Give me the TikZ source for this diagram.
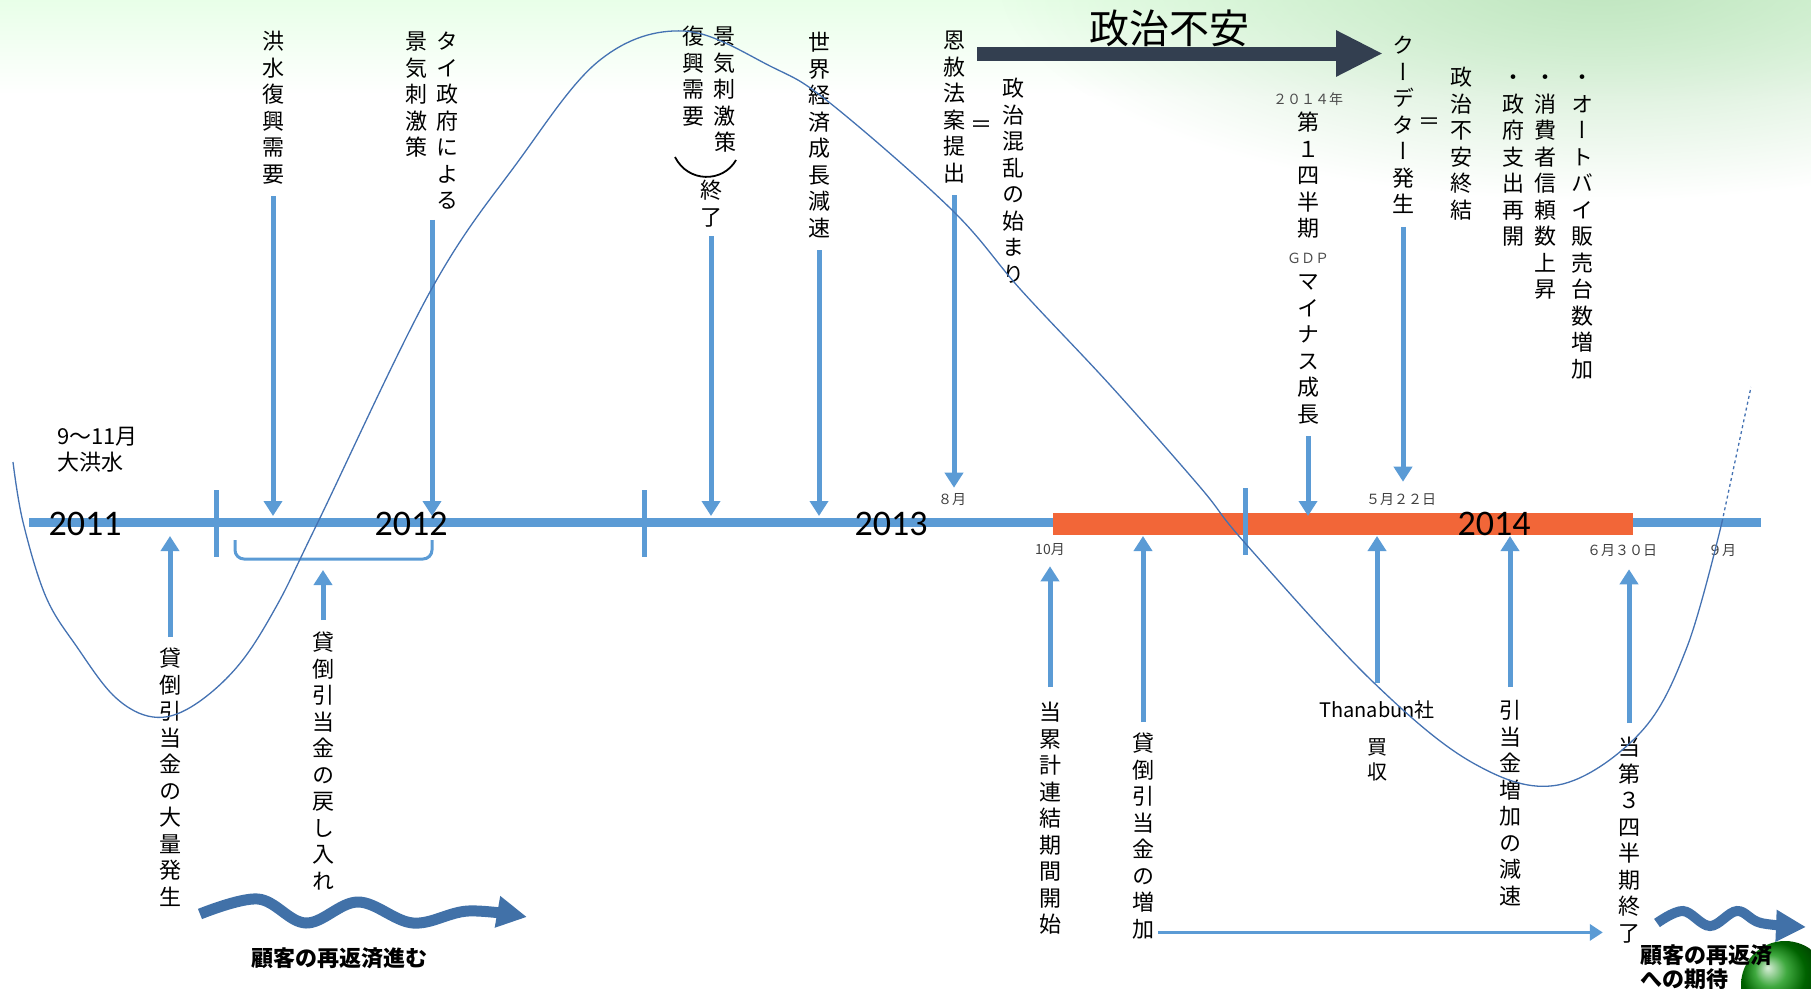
\documentclass[tikz,border=0pt]{standalone}
\usepackage{fontspec}
\newfontfamily\jp{Noto Sans CJK JP}
\newfontfamily\jpv[RawFeature=+vert]{Noto Sans CJK JP}
\newfontfamily\yearfont{Carlito}
\usetikzlibrary{arrows.meta, fadings}
\definecolor{lineblue}{RGB}{91,155,213}
\definecolor{curveblue}{RGB}{68,114,178}
\definecolor{waveblue}{RGB}{65,113,168}
\definecolor{unrestnavy}{RGB}{51,63,80}
\definecolor{barorange}{RGB}{242,102,56}
\tikzfading[name=glow, inner color=transparent!0, outer color=transparent!100]
\newcommand{\vtext}[1]{\begin{tabular}{@{}c@{}}#1\end{tabular}}
\newcommand{\sm}{\fontsize{14}{26.5}\selectfont\color{black!70}}

\begin{document}
\begin{tikzpicture}[x=1pt, y=-1pt,
    vlab/.style={font=\jpv\fontsize{22}{26.5}\selectfont, inner sep=0pt, anchor=north},
    date/.style={font=\jp\fontsize{14}{18}\selectfont, text=black!75, inner sep=0pt},
    year/.style={font=\yearfont\fontsize{36}{36}\selectfont, inner sep=0pt},
    pointer/.style={draw=lineblue, line width=5pt, -{Triangle[width=18pt,length=15pt]}, shorten <=6pt},
    thinpointer/.style={draw=lineblue, line width=3.5pt, -{Triangle[width=16pt,length=13pt]}},
    wave/.style={draw=waveblue, line width=11pt, -{Triangle[width=30pt,length=30pt]}},
    note/.style={font=\jp\bfseries\fontsize{22}{24}\selectfont, inner sep=0pt}
]
    \useasboundingbox (0,0) rectangle (1811,988);
    \shade[top color=green!9!white, bottom color=white] (0,0) rectangle (1811,95);
    \fill[green!60!black!25!white, path fading=glow] (1600,-20) ellipse [x radius=600, y radius=220];
    \shade[ball color=green!55!black] (1785,985) circle [radius=44];

    \coordinate (tlstart) at (29,522);
    \coordinate (tlend) at (1761,522);
    \coordinate (tltop) at (0,516);
    \coordinate (tlbot) at (0,536);
    \draw[lineblue, line width=9pt] (tlstart) -- (tlend);
    \fill[barorange] (1053,512.5) rectangle (1633,535);
    \draw[lineblue, line width=5pt] (216,490) -- (216,557);
    \draw[lineblue, line width=5pt] (644,490) -- (644,557);
    \draw[lineblue, line width=5pt] (1245,488) -- (1245,555);
    \draw[lineblue, line width=3pt, rounded corners=9pt] (235,540) -- (235,559) -- (432,559) -- (432,540);
    \coordinate (brk) at (323,559);

    \node[year] (y2011) at (85,523.5) {2011};
    \node[year] (y2012) at (411,523.5) {2012};
    \node[year] (y2013) at (891,523.5) {2013};
    \node[year] (y2014) at (1494,523.5) {2014};

    \node[date] (aug) at (952,500) {８月};
    \node[date] (oct) at (1050,550) {10月};
    \node[date] (may22) at (1401,500) {５月２２日};
    \node[date] (jun30) at (1622,551) {６月３０日};
    \node[date] (sep) at (1722,551) {９月};

    \node[font=\jp\fontsize{22}{26}\selectfont, align=left, anchor=west, inner sep=0pt] (bigflood) at (57,450) {9～11月\\大洪水};

    \node[vlab] (recov) at (273,31) {\vtext{洪\\水\\復\\興\\需\\要}};
    \node[vlab] (stim) at (432,31) {\begin{tabular}{@{}c@{\hspace{9pt}}c@{}}景&タ\\気&イ\\刺&政\\激&府\\策&に\\&よ\\&る\end{tabular}};
    \node[vlab] (stimend) at (709,26) {\begin{tabular}{@{}c@{\hspace{10pt}}c@{}}復&景\\興&気\\需&刺\\要&激\\&策\end{tabular}};
    \draw[line width=1.8pt] (675,157) .. controls (688,183) and (723,183) .. (736,160);
    \node[vlab] (ended) at (711,180) {\vtext{終\\了}};
    \node[vlab] (slowdown) at (819,32) {\vtext{世\\界\\経\\済\\成\\長\\減\\速}};
    \node[vlab] (amnesty) at (954,30) {\vtext{恩\\赦\\法\\案\\提\\出}};
    \node[font=\jp\fontsize{22}{26}\selectfont, inner sep=0pt] (eqa) at (981,127) {＝};
    \node[vlab] (turmoil) at (1013,78) {\vtext{政\\治\\混\\乱\\の\\始\\ま\\り}};

    \node[font=\jp\fontsize{40}{40}\selectfont, inner sep=0pt] (unrest) at (1169,28) {政治不安};
    \coordinate (unrestfrom) at (977,53.5);
    \coordinate (unrestto) at (1383,53.5);
    \draw[unrestnavy, line width=14pt, -{Triangle[width=43pt,length=47pt]}] (unrestfrom) -- (unrestto);

    \node[vlab] (gdp) at (1308,85.5) {\vtext{{\sm ２０１４年}\\第\\１\\四\\半\\期\\{\sm ＧＤＰ}\\マ\\イ\\ナ\\ス\\成\\長}};
    \node[vlab] (coup) at (1403,35) {\vtext{ク\\ー\\デ\\タ\\ー\\発\\生}};
    \node[font=\jp\fontsize{22}{26}\selectfont, inner sep=0pt] (eqb) at (1429,124) {＝};
    \node[vlab] (calm) at (1461,67) {\vtext{政\\治\\不\\安\\終\\結}};
    \node[vlab] (spend) at (1513,67) {\vtext{・\\政\\府\\支\\出\\再\\開}};
    \node[vlab] (trust) at (1545,67) {\vtext{・\\消\\費\\者\\信\\頼\\数\\上\\昇}};
    \node[vlab] (bikes) at (1582,67) {\vtext{・\\オ\\ー\\ト\\バ\\イ\\販\\売\\台\\数\\増\\加}};

    \node[vlab] (baddebt) at (170,648) {\vtext{貸\\倒\\引\\当\\金\\の\\大\\量\\発\\生}};
    \node[vlab] (reversal) at (323,632) {\vtext{貸\\倒\\引\\当\\金\\の\\戻\\し\\入\\れ}};
    \node[vlab] (fiscal) at (1050,702) {\vtext{当\\累\\計\\連\\結\\期\\間\\開\\始}};
    \node[vlab] (increase) at (1143,733) {\vtext{貸\\倒\\引\\当\\金\\の\\増\\加}};
    \node[font=\jp\fontsize{20}{25}\selectfont, align=center, inner sep=0pt, anchor=north] (takeover) at (1377,700) {Thanabun社\\[12pt]買\\収};
    \node[vlab] (easing) at (1510,700) {\vtext{引\\当\\金\\増\\加\\の\\減\\速}};
    \node[vlab] (q3) at (1629,737) {\vtext{当\\第\\３\\四\\半\\期\\終\\了}};

    \draw[pointer] (recov.south) -- (recov.south |- tltop);
    \draw[pointer, shorten <=3pt] (stim.south) -- (stim.south |- tltop);
    \draw[pointer, shorten <=3pt] (ended.south) -- (ended.south |- tltop);
    \draw[pointer] (slowdown.south) -- (slowdown.south |- tltop);
    \draw[pointer, shorten >=6pt] (amnesty.south) -- (amnesty.south |- aug.north);
    \draw[pointer] (gdp.south) -- (gdp.south |- tltop);
    \draw[pointer, shorten >=12pt] (coup.south) -- (coup.south |- may22.north);
    \draw[pointer, shorten <=11pt] (baddebt.north) -- (baddebt.north |- tlbot);
    \draw[pointer, shorten <=12pt, shorten >=11pt] (reversal.north) -- (brk);
    \draw[pointer, shorten <=15pt, shorten >=10pt] (fiscal.north) -- (oct.south);
    \draw[pointer, shorten <=11pt] (increase.north) -- (increase.north |- tlbot);
    \draw[pointer, shorten <=17pt] (takeover.north) -- (takeover.north |- tlbot);
    \draw[pointer, shorten <=13pt] (easing.north) -- (easing.north |- tlbot);
    \draw[pointer, shorten <=14pt, shorten >=12pt] (q3.north) -- (q3.north |- jun30.south);

    \coordinate (hstart) at ([shift={(4pt,13pt)}]increase.south east);
    \draw[thinpointer, shorten >=15pt] (hstart) -- (hstart -| q3.west);

    \draw[wave] plot[smooth, tension=0.6] coordinates {(200,914) (258,899) (306,923) (358,902) (413,923) (468,911) (527,917)};
    \node[note] (repay) at (339,958) {顧客の再返済進む};
    \draw[wave, line width=10pt] plot[smooth, tension=0.6] coordinates {(1657,923) (1683,911) (1710,926) (1737,911) (1761,923) (1806,927)};
    \node[note, align=left, anchor=north west] (hope) at (1640,944) {顧客の再返済\\への期待};

    \draw[curveblue, line width=1.3pt] plot[smooth, tension=0.6] coordinates {(13,462) (23,522) (46,597) (77,647) (115,697) (153,717) (191,707) (237,667) (276,607) (318,522) (431,290) (517,163) (600,60) (684,31) (772,67) (830,103) (952,210) (1021,290) (1110,385) (1200,487) (1245,543) (1371,680) (1473,763) (1558,785) (1640,733) (1687,647) (1722,522)};
    \draw[curveblue, line width=1.3pt, dashed] (1722,522) -- (1751,387);
\end{tikzpicture}
\end{document}
